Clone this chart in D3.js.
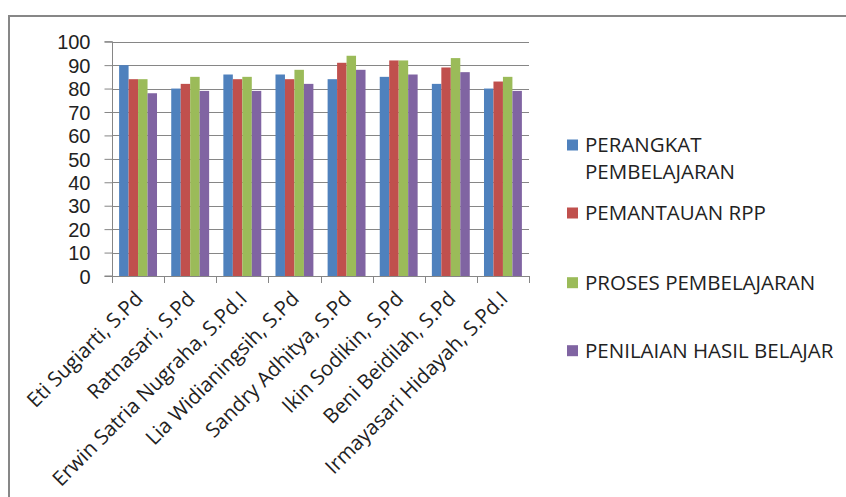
<!DOCTYPE html>
<html><head><meta charset="utf-8">
<script src="https://cdn.jsdelivr.net/npm/d3@7"></script>
<style>body{margin:0;background:#fff}svg{display:block}</style>
</head><body>
<script>
const categories = ["Eti Sugiarti, S.Pd","Ratnasari, S.Pd","Erwin Satria Nugraha, S.Pd.I","Lia Widianingsih, S.Pd","Sandry Adhitya, S.Pd","Ikin Sodikin, S.Pd","Beni Beidilah, S.Pd","Irmayasari Hidayah, S.Pd.I"];
const seriesNames = ["PERANGKAT PEMBELAJARAN","PEMANTAUAN RPP","PROSES PEMBELAJARAN","PENILAIAN HASIL BELAJAR"];
const perangkat = [90,80,86,86,84,85,82,80];
const pemantauan = [84,82,84,84,91,92,89,83];
const proses = [84,85,85,88,94,92,93,85];
const penilaian = [78,79,79,82,88,86,87,79];
const yTicks = [0,10,20,30,40,50,60,70,80,90,100];
const colors = ["#4F81BD","#C0504D","#9BBB59","#8064A2"];
const seriesValues = [perangkat, pemantauan, proses, penilaian];

const W=846,H=497;
const svg=d3.select("body").append("svg").attr("width",W).attr("height",H);
const font="'Open Sans', sans-serif";
// border
svg.append("path").attr("d",`M9,${H+5} L9,16 L${W+5},16`).attr("fill","none").attr("stroke","#878787").attr("stroke-width",2);

const x0=112,x1=529,yTop=41.7,yBot=276;
const x=d3.scaleBand().domain(categories).range([x0,x1]).paddingInner(0).paddingOuter(0);
const y=d3.scaleLinear().domain([0,100]).range([yBot,yTop]);
const bw=x.bandwidth()/5.5;
const xs=d3.scaleBand().domain(d3.range(4)).range([0,bw*4]);

// gridlines
svg.append("g").selectAll("line").data(yTicks.filter(d=>d>0)).join("line")
 .attr("x1",x0).attr("x2",x1).attr("y1",d=>Math.round(y(d))+0.5).attr("y2",d=>Math.round(y(d))+0.5)
 .attr("stroke","#868686").attr("stroke-width",1);

// y axis
const ya=svg.append("g").attr("transform",`translate(${x0+0.5},0)`).call(d3.axisLeft(y).tickValues(yTicks).tickSize(8).tickPadding(14).tickFormat(d3.format("d")));
ya.select(".domain").attr("stroke","#868686").attr("d",`M-8,${y(100)}H0V${y(0)}H-8`);
ya.selectAll(".tick line").attr("stroke","#868686");
ya.selectAll(".tick text").attr("font-family","'Liberation Sans', Arial, sans-serif").attr("font-size",20).attr("fill","#222").attr("dy","0.36em");

// bars
categories.forEach((c,i)=>{
  seriesValues.forEach((vals,s)=>{
    svg.append("rect").attr("x",x(c)+bw*0.75+xs(s)).attr("y",y(vals[i])).attr("width",bw).attr("height",y(0)-y(vals[i]))
      .attr("fill",colors[s]);
  });
});

// x axis
svg.append("line").attr("x1",x0).attr("x2",x1).attr("y1",yBot+0.5).attr("y2",yBot+0.5).attr("stroke","#868686");
svg.append("g").selectAll("line").data(d3.range(categories.length+1)).join("line")
 .attr("x1",d=>Math.round(x0+d*x.step())+0.5).attr("x2",d=>Math.round(x0+d*x.step())+0.5)
 .attr("y1",yBot).attr("y2",yBot+7).attr("stroke","#868686");
svg.append("g").selectAll("text").data(categories).join("text")
 .attr("transform",d=>`translate(${x(d)+x.bandwidth()/2+6},${yBot+24}) rotate(-45)`)
 .attr("text-anchor","end").attr("font-family",font).attr("font-size",20.5).attr("fill","#222").text(d=>d);

// legend
const leg=[{n:0,lines:["PERANGKAT","PEMBELAJARAN"],y:145},{n:1,lines:["PEMANTAUAN RPP"],y:213},{n:2,lines:["PROSES PEMBELAJARAN"],y:282.7},{n:3,lines:["PENILAIAN HASIL BELAJAR"],y:350.7}];
leg.forEach(l=>{
  svg.append("rect").attr("x",567).attr("y",l.y-5.5).attr("width",11).attr("height",11).attr("fill",colors[l.n]);
  l.lines.forEach((t,k)=>{
    svg.append("text").attr("x",585).attr("y",l.y+7+k*27).attr("font-family",font).attr("font-size",20.5).attr("fill","#222").text(t);
  });
});
</script>
</body></html>
